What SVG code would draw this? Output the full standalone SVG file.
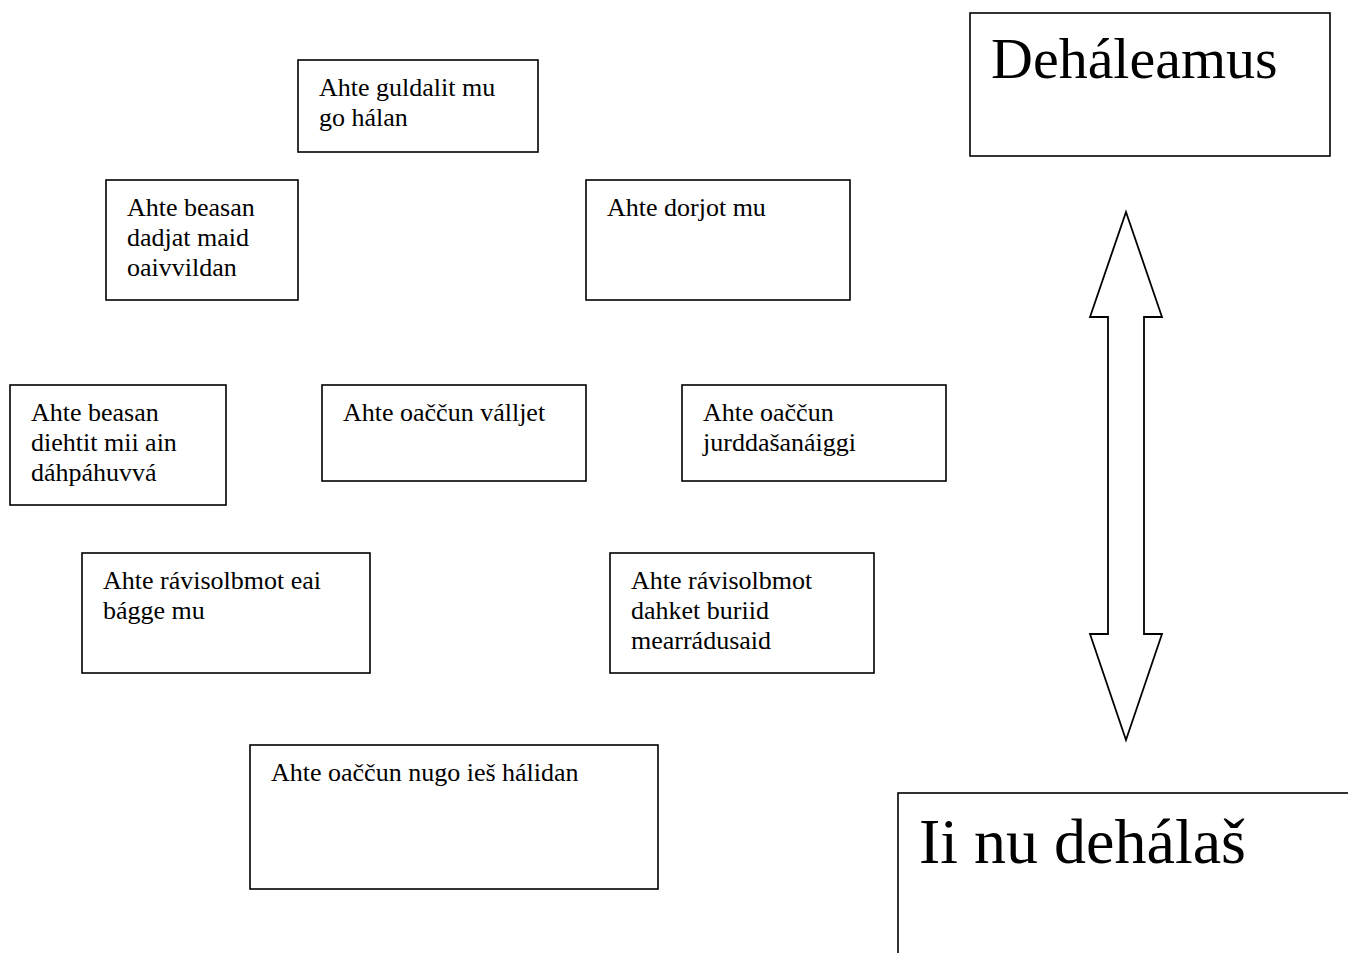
<svg xmlns="http://www.w3.org/2000/svg" width="1348" height="953" viewBox="0 0 1348 953">
<style>
rect.box{fill:#fff;stroke:#000;stroke-width:1.6}
text{font-family:"Liberation Serif","Times New Roman",serif;fill:#000}
.s{font-size:26px}
.big1{font-size:58px}
.big2{font-size:64px}
.arrow{fill:#fff;stroke:#000;stroke-width:1.8;stroke-linejoin:miter}
</style>
<rect width="1348" height="953" fill="#fff"/>
<g id="n1"><rect class="box" x="298" y="60" width="240" height="92"/><text class="s" x="319" y="96">Ahte guldalit mu</text><text class="s" x="319" y="126">go hálan</text></g>
<g id="n2"><rect class="box" x="106" y="180" width="192" height="120"/><text class="s" x="127" y="216">Ahte beasan</text><text class="s" x="127" y="246">dadjat maid</text><text class="s" x="127" y="276">oaivvildan</text></g>
<g id="n3"><rect class="box" x="586" y="180" width="264" height="120"/><text class="s" x="607" y="216">Ahte dorjot mu</text></g>
<g id="n4"><rect class="box" x="10" y="385" width="216" height="120"/><text class="s" x="31" y="421">Ahte beasan</text><text class="s" x="31" y="451">diehtit mii ain</text><text class="s" x="31" y="481">dáhpáhuvvá</text></g>
<g id="n5"><rect class="box" x="322" y="385" width="264" height="96"/><text class="s" x="343" y="421">Ahte oaččun válljet</text></g>
<g id="n6"><rect class="box" x="682" y="385" width="264" height="96"/><text class="s" x="703" y="421">Ahte oaččun</text><text class="s" x="703" y="451">jurddašanáiggi</text></g>
<g id="n7"><rect class="box" x="82" y="553" width="288" height="120"/><text class="s" x="103" y="589">Ahte rávisolbmot eai</text><text class="s" x="103" y="619">bágge mu</text></g>
<g id="n8"><rect class="box" x="610" y="553" width="264" height="120"/><text class="s" x="631" y="589">Ahte rávisolbmot</text><text class="s" x="631" y="619">dahket buriid</text><text class="s" x="631" y="649">mearrádusaid</text></g>
<g id="n9"><rect class="box" x="250" y="745" width="408" height="144"/><text class="s" x="271" y="781">Ahte oaččun nugo ieš hálidan</text></g>
<g id="n10"><rect class="box" x="970" y="13" width="360" height="143"/><text class="big1" x="991" y="78">Deháleamus</text></g>
<g id="n11"><rect class="box" x="898" y="793" width="500" height="220"/><text class="big2" x="919" y="863">Ii nu dehálaš</text></g>
<g id="connectors"><polygon class="arrow" points="1126,212 1162,317 1144,317 1144,634 1162,634 1126,740 1090,634 1108,634 1108,317 1090,317"/></g>
</svg>
